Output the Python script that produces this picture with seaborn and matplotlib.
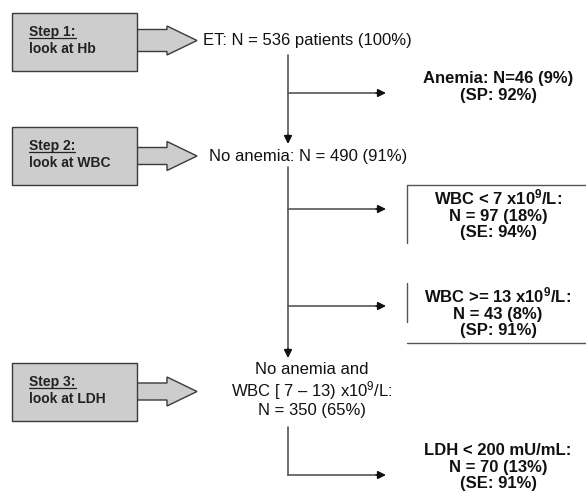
import matplotlib.pyplot as plt
import seaborn as sns
from matplotlib.patches import Rectangle, Polygon

# text content of the flowchart
step_titles = ["Step 1:", "Step 2:", "Step 3:"]
step_actions = ["look at Hb", "look at WBC", "look at LDH"]
flow_labels = [
    "ET: N = 536 patients (100%)",
    "No anemia: N = 490 (91%)",
    "No anemia and\nWBC [ 7 \u2013 13) x10$^9$/L:\nN = 350 (65%)",
]
outcome_labels = [
    "Anemia: N=46 (9%)\n(SP: 92%)",
    "WBC < 7 x10$^9$/L:\nN = 97 (18%)\n(SE: 94%)",
    "WBC >= 13 x10$^9$/L:\nN = 43 (8%)\n(SP: 91%)",
    "LDH < 200 mU/mL:\nN = 70 (13%)\n(SE: 91%)",
]

sns.set_style("white")
plt.rcParams["font.family"] = ["Liberation Sans", "DejaVu Sans"]
plt.rcParams["mathtext.fontset"] = "custom"
plt.rcParams["mathtext.rm"] = "Liberation Sans"
plt.rcParams["mathtext.bf"] = "Liberation Sans:bold"
plt.rcParams["mathtext.default"] = "regular"

fig = plt.figure(figsize=(5.86, 4.98), dpi=100)
ax = fig.add_axes([0, 0, 1, 1])
ax.set_xlim(0, 586)
ax.set_ylim(498, 0)
ax.axis("off")

line_c = "#555555"
edge_c = "#3a3a3a"
fill_c = "#cdcdcd"
txt_c = "#111111"

# step boxes with block arrows
box_tops = [13, 127, 363]
arrow_y = [40.5, 156, 391.5]
shaft_h = [11, 8.5, 8.5]
box_h = 58
for i, top in enumerate(box_tops):
    ay, sh = arrow_y[i], shaft_h[i]
    arrow = Polygon([(137, ay - sh), (167, ay - sh), (167, ay - 14.5), (197, ay),
                     (167, ay + 14.5), (167, ay + sh), (137, ay + sh)],
                    closed=True, facecolor=fill_c, edgecolor=edge_c, lw=1.0, zorder=2)
    ax.add_patch(arrow)
    ax.add_patch(Rectangle((12, top), 125, box_h, facecolor=fill_c,
                           edgecolor=edge_c, lw=1.0, zorder=3))
    t = ax.text(29, top + 23, step_titles[i], fontsize=10, fontweight="bold",
                color="#222222", va="baseline", ha="left", zorder=4)
    ax.text(29, top + 39.5, step_actions[i], fontsize=10, fontweight="bold",
            color="#222222", va="baseline", ha="left", zorder=4)
    fig.canvas.draw()
    bb = t.get_window_extent().transformed(ax.transData.inverted())
    ax.plot([bb.x0, bb.x1], [top + 24.5, top + 24.5], color="#222222",
            lw=0.9, zorder=4)

# main flow text
ax.text(203, 40, flow_labels[0], fontsize=12, ha="left", va="center", color=txt_c)
ax.text(209, 156, flow_labels[1], fontsize=12, ha="left", va="center", color=txt_c)
ax.text(312, 390, flow_labels[2], fontsize=12, ha="center", va="center",
        color=txt_c, linespacing=1.12)

arr_k = dict(arrowstyle="-|>", color="#111111", lw=1.1, mutation_scale=12,
             shrinkA=0, shrinkB=0)

vx = 288
# vertical flow arrows
ax.plot([vx, vx], [55, 137], color=line_c, lw=1.2)
ax.annotate("", xy=(vx, 144), xytext=(vx, 135), arrowprops=arr_k)
ax.plot([vx, vx], [167, 351], color=line_c, lw=1.2)
ax.annotate("", xy=(vx, 358), xytext=(vx, 349), arrowprops=arr_k)
ax.plot([vx, vx], [427, 475], color=line_c, lw=1.2)

# branch arrows to the outcomes
for by in [93, 209, 306, 475]:
    ax.plot([vx, 377], [by, by], color=line_c, lw=1.2)
    ax.annotate("", xy=(386, by), xytext=(376, by), arrowprops=arr_k)

# outcome texts
out_y = [87, 214, 312, 467]
for lab, y in zip(outcome_labels, out_y):
    ax.text(498, y, lab, fontsize=12, fontweight="bold", ha="center", va="center",
            color=txt_c, linespacing=1.12)

# partial frames round the WBC outcomes
ax.plot([407, 407, 586], [243, 185, 185], color=line_c, lw=1.0)
ax.plot([407, 407], [283, 322], color=line_c, lw=1.0)
ax.plot([407, 586], [343, 343], color=line_c, lw=1.0)

fig.savefig("out.png", dpi=100)
